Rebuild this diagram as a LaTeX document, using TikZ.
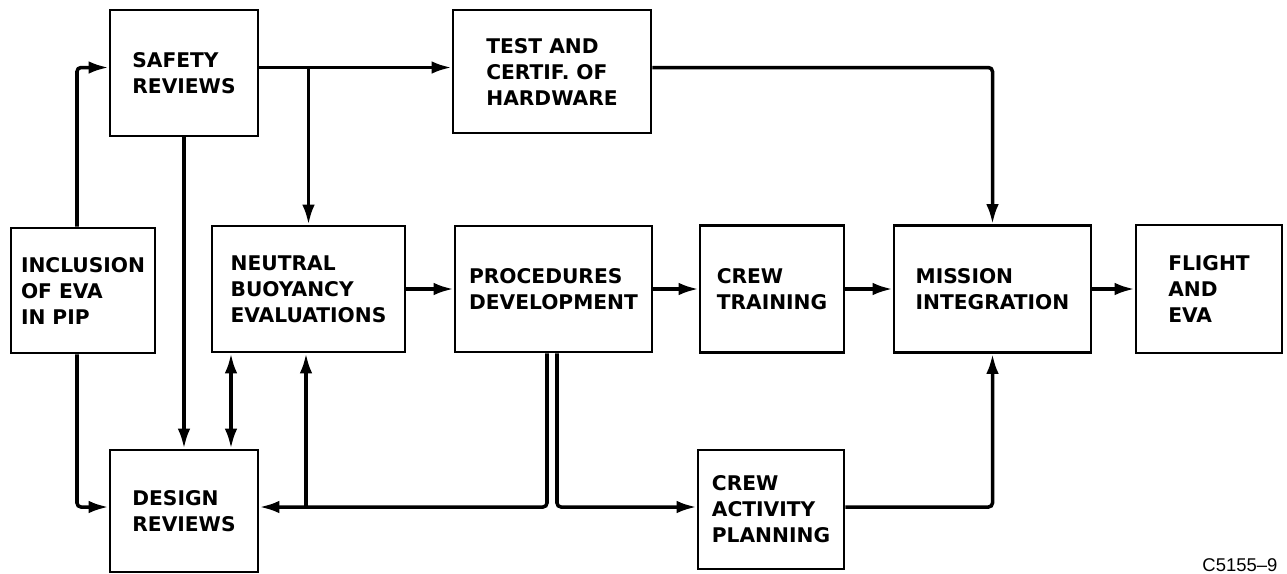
\documentclass[tikz,border=0pt]{standalone}
\usepackage{fontspec}
\setmainfont{DejaVu Sans}
\newfontfamily\idfont{Liberation Sans}
\usetikzlibrary{arrows.meta}

\begin{document}
\begin{tikzpicture}[x=0.2mm,y=-0.2mm,line width=2pt,
  arr/.style={-{Latex[length=4mm,width=2.5mm]},rounded corners=0.8mm},
  dbl/.style={{Latex[length=4mm,width=2.5mm]}-{Latex[length=4mm,width=2.5mm]}}]
   \useasboundingbox (0,0) rectangle (1287,573);
   \begin{scope}[every node/.style={rectangle,draw=black,line width=1.5pt,align=left,inner sep=0pt,font=\bfseries\fontsize{11.5}{14.8}\selectfont}]
    \node[minimum width=29.6mm,minimum height=25.2mm] (safety) at (184,73) {SAFETY\\REVIEWS};
    \node[minimum width=39.6mm,minimum height=24.6mm] (test) at (552,71.5) {TEST AND\\CERTIF. OF\\HARDWARE};
    \node[minimum width=28.8mm,minimum height=25mm] (incl) at (83,290.5) {INCLUSION\\OF EVA\\IN PIP};
    \node[minimum width=38.6mm,minimum height=25.2mm] (neutral) at (308.5,289) {NEUTRAL\\BUOYANCY\\EVALUATIONS};
    \node[minimum width=39.4mm,minimum height=25.2mm] (proc) at (553.5,289) {PROCEDURES\\DEVELOPMENT};
    \node[minimum width=28.8mm,minimum height=25.4mm] (crew) at (772,289) {CREW\\TRAINING};
    \node[minimum width=39.4mm,minimum height=25.4mm] (mission) at (992.5,289) {MISSION\\INTEGRATION};
    \node[minimum width=29.2mm,minimum height=25.6mm] (flight) at (1209,289) {FLIGHT\\AND\\EVA};
    \node[minimum width=29.6mm,minimum height=24.4mm] (design) at (184,511) {DESIGN\\REVIEWS};
    \node[minimum width=29.2mm,minimum height=23.8mm] (activity) at (771,509.5) {CREW\\ACTIVITY\\PLANNING};
   \end{scope}
   \node[anchor=base east,font=\idfont\fontsize{10.5}{12}\selectfont] (fig) at (1285,571) {C5155–9};
   \coordinate (top) at (77,67.5);
   \coordinate (low) at (77,507);
   \coordinate (dup) at (231,0);
   \coordinate (back) at (547,0);
   \coordinate (fwd) at (557,0);
   \coordinate (tap) at (306,507);
   \begin{scope}
    \draw[arr] (incl.north -| top) |- (top -| safety.west);
    \draw[arr] (top -| safety.east) -- (top -| test.west);
    \draw[arr] (top -| neutral.north) -- (neutral.north);
    \draw[arr] (safety) -- (design);
    \draw[arr] (incl.south -| low) |- (low -| design.west);
    \draw[dbl] (design.north -| dup) -- (neutral.south -| dup);
    \draw[arr] (proc.south -| back) |- (low -| design.east);
    \draw[arr] (tap) -- (neutral.south -| tap);
    \draw[arr] (proc.south -| fwd) |- (low -| activity.west);
    \draw[arr] (low -| activity.east) -| (mission.south);
    \draw[arr] (top -| test.east) -| (mission.north);
    \draw[arr] (neutral) -- (proc);
    \draw[arr] (proc) -- (crew);
    \draw[arr] (crew) -- (mission);
    \draw[arr] (mission) -- (flight);
   \end{scope}
\end{tikzpicture}
\end{document}
